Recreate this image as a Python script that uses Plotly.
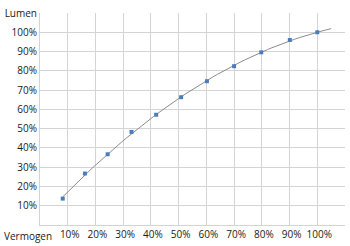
import numpy as np
import plotly.graph_objects as go

# Data (fractions of 1 = 100%)
vermogen = [0.082, 0.162, 0.244, 0.330, 0.419, 0.509, 0.602, 0.700, 0.798, 0.901, 1.000]
lumen = [0.137, 0.267, 0.367, 0.483, 0.572, 0.663, 0.746, 0.824, 0.896, 0.960, 1.000]

x_ticks = [0.0, 0.1, 0.2, 0.3, 0.4, 0.5, 0.6, 0.7, 0.8, 0.9, 1.0, 1.1]
x_labels = ["", "10%", "20%", "30%", "40%", "50%", "60%", "70%", "80%", "90%", "100%", ""]
y_ticks = [0.0, 0.1, 0.2, 0.3, 0.4, 0.5, 0.6, 0.7, 0.8, 0.9, 1.0, 1.1]
y_labels = ["", "10%", "20%", "30%", "40%", "50%", "60%", "70%", "80%", "90%", "100%", "Lumen"]

# Polynomial (2nd order) trendline, as in the spreadsheet, with a small forward forecast
coef = np.polyfit(vermogen, lumen, 2)
trend_x = np.linspace(min(vermogen), max(vermogen) + 0.05, 60)
trend_y = np.polyval(coef, trend_x)

font = dict(family="Open Sans, Liberation Sans, sans-serif", size=10, color="#1a1a1a")
grid = "#d4d4d4"

fig = go.Figure()
fig.add_trace(go.Scatter(x=trend_x, y=trend_y, mode="lines",
                         line=dict(color="#8c8c8c", width=1), hoverinfo="skip"))
fig.add_trace(go.Scatter(x=vermogen, y=lumen, mode="markers",
                         marker=dict(symbol="square", size=4, color="#4a7ebb")))

fig.update_layout(
    width=350, height=246,
    margin=dict(l=38, r=5, t=9, b=16),
    paper_bgcolor="white", plot_bgcolor="white",
    showlegend=False,
    font=font,
    xaxis=dict(range=[0, 1.1], tickmode="array", tickvals=x_ticks, ticktext=x_labels,
               showgrid=True, gridcolor=grid, gridwidth=1, zeroline=False,
               showline=True, linecolor=grid, ticks="", tickfont=font,
               ticklabelshift=2),
    yaxis=dict(range=[0, 1.1], tickmode="array", tickvals=y_ticks, ticktext=y_labels,
               showgrid=True, gridcolor=grid, gridwidth=1, zeroline=False,
               showline=True, linecolor=grid, ticks="", tickfont=font),
    annotations=[dict(text="Vermogen", xref="paper", yref="paper", x=0, y=0,
                      xanchor="right", yanchor="top", xshift=14, yshift=-2,
                      showarrow=False, font=font)],
)

fig.write_html("out.html")
